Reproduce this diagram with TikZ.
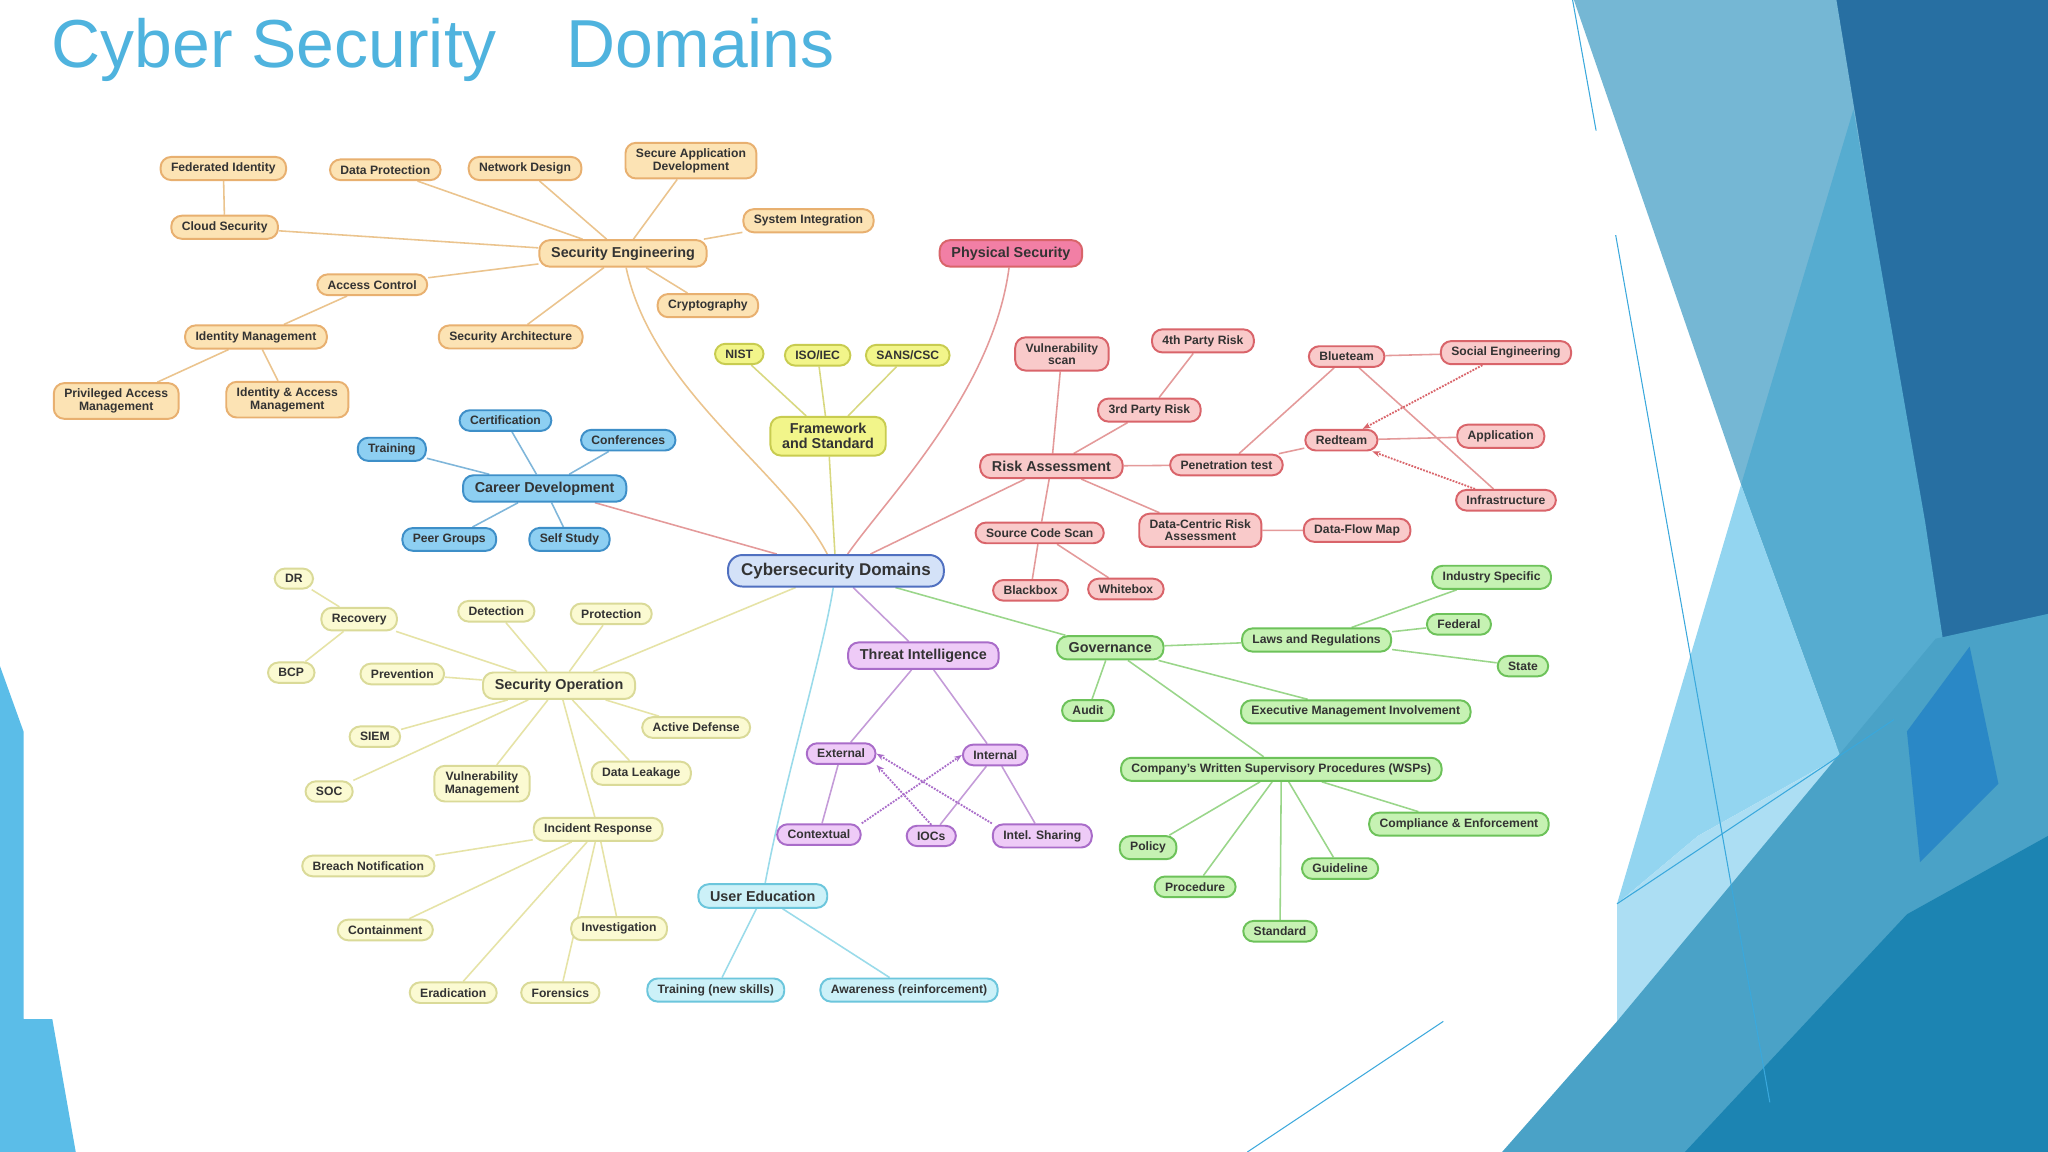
\documentclass[tikz,border=0pt]{standalone}
\usepackage{fontspec}
\setmainfont{Liberation Sans}
\usetikzlibrary{backgrounds,arrows.meta}
\definecolor{ttl}{HTML}{4FB3DE}
\definecolor{oF}{HTML}{FCE3B4}\definecolor{oD}{HTML}{E8B070}\definecolor{oE}{HTML}{EBC48E}
\definecolor{pF}{HTML}{F9CACA}\definecolor{pD}{HTML}{D9646A}\definecolor{pE}{HTML}{E49A9A}
\definecolor{psF}{HTML}{F27FA5}
\definecolor{yF}{HTML}{F2F58A}\definecolor{yD}{HTML}{C8CC50}\definecolor{yE}{HTML}{D8D880}
\definecolor{bF}{HTML}{8DCFF2}\definecolor{bD}{HTML}{3E8FC8}\definecolor{bE}{HTML}{7FB6DA}
\definecolor{cF}{HTML}{FBFAD2}\definecolor{cD}{HTML}{DADA98}\definecolor{cE}{HTML}{E6E3A6}
\definecolor{vF}{HTML}{EECBF7}\definecolor{vD}{HTML}{A96CC9}\definecolor{vE}{HTML}{C49BD8}
\definecolor{gF}{HTML}{C6F2B3}\definecolor{gD}{HTML}{6DC25A}\definecolor{gE}{HTML}{9AD68A}
\definecolor{yyF}{HTML}{CCF1F8}\definecolor{yyD}{HTML}{6CC6DC}\definecolor{yyE}{HTML}{9ADBEA}
\definecolor{zF}{HTML}{D4E2F8}\definecolor{zD}{HTML}{5070C0}
\definecolor{d1}{HTML}{5BBDE8}\definecolor{d2}{HTML}{276FA2}\definecolor{d3}{HTML}{75B7D4}
\definecolor{d4}{HTML}{56ACD0}\definecolor{d5}{HTML}{93D5F0}\definecolor{d6}{HTML}{ACDEF3}
\definecolor{d7}{HTML}{4AA2C7}\definecolor{d8}{HTML}{1C84B2}\definecolor{d9}{HTML}{2A88C6}
\definecolor{dl}{HTML}{3AA8DC}
\tikzset{
 bx/.style={rounded corners=8pt,inner ysep=4.5pt,inner xsep=8pt,line width=1.5pt,align=center,font=\bfseries\fontsize{9.3}{9.6}\selectfont,text=black!80},
 big/.style={font=\bfseries\fontsize{11}{11.5}\selectfont,inner ysep=5pt,inner xsep=9pt},
 org/.style={bx,fill=oF,draw=oD},
 pnk/.style={bx,fill=pF,draw=pD},
 ylw/.style={bx,fill=yF,draw=yD},
 blu/.style={bx,fill=bF,draw=bD},
 crm/.style={bx,fill=cF,draw=cD},
 prp/.style={bx,fill=vF,draw=vD},
 grn/.style={bx,fill=gF,draw=gD},
 cyn/.style={bx,fill=yyF,draw=yyD},
 eo/.style={draw=oE,line width=1.2pt},
 ep/.style={draw=pE,line width=1.2pt},
 ey/.style={draw=yE,line width=1.2pt},
 eb/.style={draw=bE,line width=1.2pt},
 ec/.style={draw=cE,line width=1.2pt},
 ev/.style={draw=vE,line width=1.2pt},
 eg/.style={draw=gE,line width=1.2pt},
 ecy/.style={draw=yyE,line width=1.2pt},
 dar/.style={densely dotted,line width=1.4pt,-{Stealth[length=6pt]}},
}
\begin{document}
\begin{tikzpicture}[x=1pt,y=-1pt]
\useasboundingbox (0,0) rectangle (1568,882);
\node[anchor=west,text=ttl,font=\fontsize{52}{56}\selectfont] (title) at (36,38) {Cyber Security\hspace{0.75em} Domains};
% orange
\node[org] (fi) at (171,129) {Federated Identity};
\node[org] (dp) at (295,130) {Data Protection};
\node[org] (nd) at (402,129) {Network Design};
\node[org] (sad) at (529,123) {Secure Application\\Development};
\node[org] (cs) at (172,174) {Cloud Security};
\node[org] (si) at (619,169) {System Integration};
\node[org,big] (se) at (477,194) {Security Engineering};
\node[org] (ac) at (285,218) {Access Control};
\node[org] (cry) at (542,234) {Cryptography};
\node[org] (im) at (196,258) {Identity Management};
\node[org] (sa) at (391,258) {Security Architecture};
\node[org] (pam) at (89,307) {Privileged Access\\Management};
\node[org] (iam) at (220,306) {Identity \& Access\\Management};
% physical
\node[pnk,big,fill=psF] (ps) at (774,194) {Physical Security};
% yellow
\node[ylw] (nist) at (566,271) {NIST};
\node[ylw] (iso) at (626,272) {ISO/IEC};
\node[ylw] (sans) at (695,272) {SANS/CSC};
\node[ylw,big] (fs) at (634,334) {Framework\\and Standard};
% blue
\node[blu] (cert) at (387,322) {Certification};
\node[blu] (conf) at (481,337) {Conferences};
\node[blu] (tr) at (300,344) {Training};
\node[blu,big] (cd) at (417,374) {Career Development};
\node[blu] (pg) at (344,413) {Peer Groups};
\node[blu] (ss) at (436,413) {Self Study};
% center
\node[bx,font=\bfseries\fontsize{13}{14}\selectfont,fill=zF,draw=zD,inner ysep=6pt,inner xsep=10pt,rounded corners=11pt] (cen) at (640,437) {Cybersecurity Domains};
% pink
\node[pnk] (vs) at (813,271) {Vulnerability\\scan};
\node[pnk] (p4) at (921,261) {4th Party Risk};
\node[pnk] (p3) at (880,314) {3rd Party Risk};
\node[pnk,big] (ra) at (805,357) {Risk Assessment};
\node[pnk] (pt) at (939,356) {Penetration test};
\node[pnk] (dcra) at (919,406) {Data-Centric Risk\\Assessment};
\node[pnk] (scs) at (796,408) {Source Code Scan};
\node[pnk] (dfm) at (1039,406) {Data-Flow Map};
\node[pnk] (bb) at (789,452) {Blackbox};
\node[pnk] (wb) at (862,451) {Whitebox};
\node[pnk] (blt) at (1031,273) {Blueteam};
\node[pnk] (rdt) at (1027,337) {Redteam};
\node[pnk] (soe) at (1153,270) {Social Engineering};
\node[pnk] (app) at (1149,334) {Application};
\node[pnk] (inf) at (1153,383) {Infrastructure};
% purple
\node[prp,big] (ti) at (707,502) {Threat Intelligence};
\node[prp] (ext) at (644,577) {External};
\node[prp] (int) at (762,578) {Internal};
\node[prp] (ctx) at (627,639) {Contextual};
\node[prp] (iocs) at (713,640) {IOCs};
\node[prp] (ish) at (798,640) {Intel. Sharing};
% cyan
\node[cyn,big] (ue) at (584,686) {User Education};
\node[cyn] (tns) at (548,758) {Training (new skills)};
\node[cyn] (aw) at (696,758) {Awareness (reinforcement)};
% green
\node[grn,big] (gov) at (850,496) {Governance};
\node[grn] (lr) at (1008,490) {Laws and Regulations};
\node[grn] (ind) at (1142,442) {Industry Specific};
\node[grn] (fed) at (1117,478) {Federal};
\node[grn] (st) at (1166,510) {State};
\node[grn] (aud) at (833,544) {Audit};
\node[grn] (emi) at (1038,545) {Executive Management Involvement};
\node[grn] (wsp) at (981,589) {Company's Written Supervisory Procedures (WSPs)};
\node[grn] (ce) at (1117,631) {Compliance \& Enforcement};
\node[grn] (pol) at (879,649) {Policy};
\node[grn] (gl) at (1026,665) {Guideline};
\node[grn] (proc) at (915,679) {Procedure};
\node[grn] (std) at (980,713) {Standard};
% cream
\node[crm] (dr) at (225,443) {DR};
\node[crm] (rec) at (275,474) {Recovery};
\node[crm] (det) at (380,468) {Detection};
\node[crm] (prot) at (468,470) {Protection};
\node[crm] (bcp) at (223,515) {BCP};
\node[crm] (prev) at (308,516) {Prevention};
\node[crm,big] (so) at (428,525) {Security Operation};
\node[crm] (ad) at (533,557) {Active Defense};
\node[crm] (siem) at (287,564) {SIEM};
\node[crm] (vm) at (369,600) {Vulnerability\\Management};
\node[crm] (dleak) at (491,592) {Data Leakage};
\node[crm] (soc) at (252,606) {SOC};
\node[crm] (ir) at (458,635) {Incident Response};
\node[crm] (bn) at (282,663) {Breach Notification};
\node[crm] (cont) at (295,712) {Containment};
\node[crm] (inv) at (474,711) {Investigation};
\node[crm] (erad) at (347,760) {Eradication};
\node[crm] (for) at (429,760) {Forensics};

\begin{scope}[on background layer]
% decorations
\fill[d1] (0,510) -- (18,560) -- (18,780) -- (40,780) -- (58,882) -- (0,882) -- cycle;
\fill[white] (18,0) rectangle (1237,780);
\fill[d2] (1406,0) -- (1568,0) -- (1568,882) -- (1406,882) -- cycle;
\fill[d3] (1205,0) -- (1406,0) -- (1501,579) -- (1409,579) -- (1333,371) -- cycle;
\fill[d4] (1419,84) -- (1474,400) -- (1501,579) -- (1409,579) -- (1333,371) -- cycle;
\fill[d5] (1333,371) -- (1409,579) -- (1300,640) -- (1238,692) -- cycle;
\fill[d6] (1238,692) -- (1300,640) -- (1409,579) -- (1330,680) -- (1238,782) -- cycle;
\fill[d7] (1150,882) -- (1238,782) -- (1482,489) -- (1568,470) -- (1568,882) -- cycle;
\fill[d8] (1290,882) -- (1460,700) -- (1568,640) -- (1568,882) -- cycle;
\fill[d9] (1460,560) -- (1508,495) -- (1530,600) -- (1470,660) -- cycle;
\draw[dl,line width=0.8pt] (1204,0) -- (1222,100) (1237,180) -- (1355,844) (1238,692) -- (1450,551) (955,882) -- (1105,782);
% edges
\path[eo] (cs) -- (se) (fi) -- (cs) (dp) -- (se) (nd) -- (se) (sad) -- (se) (si) -- (se) (ac) -- (se) (cry) -- (se) (sa) -- (se) (ac) -- (im) (im) -- (pam) (im) -- (iam);
\path[eo] (se) .. controls (500,300) and (600,360) .. (cen);
\path[ep] (ps) .. controls (760,300) and (680,380) .. (cen);
\path[ey] (fs) -- (nist) (fs) -- (iso) (fs) -- (sans) (fs) -- (cen);
\path[eb] (cd) -- (cert) (cd) -- (conf) (cd) -- (tr) (cd) -- (pg) (cd) -- (ss);
\path[ep] (cd) -- (cen);
\path[ep] (ra) -- (vs) (ra) -- (p3) (p3) -- (p4) (ra) -- (pt) (ra) -- (dcra) (ra) -- (scs) (scs) -- (bb) (scs) -- (wb) (dcra) -- (dfm) (pt) -- (blt) (pt) -- (rdt) (blt) -- (soe) (blt) -- (inf) (rdt) -- (app) (ra) -- (cen);
\path[dar,draw=pD] (soe) -- (rdt);
\path[dar,draw=pD] (inf) -- (rdt);
\path[ev] (ti) -- (cen) (ti) -- (ext) (ti) -- (int) (ext) -- (ctx) (int) -- (iocs) (int) -- (ish);
\path[dar,draw=vD] (ctx.north east) -- (int.west);
\path[dar,draw=vD] (ish.north west) -- (ext.east);
\path[dar,draw=vD] (iocs.north) -- (ext.south east);
\path[ecy] (ue) -- (tns) (ue) -- (aw);
\path[ecy] (ue) .. controls (600,600) and (630,500) .. (cen);
\path[eg] (gov) -- (cen) (gov) -- (lr) (lr) -- (ind) (lr) -- (fed) (lr) -- (st) (gov) -- (aud) (gov) -- (emi) (gov) -- (wsp) (wsp) -- (ce) (wsp) -- (pol) (wsp) -- (gl) (wsp) -- (proc) (wsp) -- (std);
\path[ec] (so) -- (cen) (rec) -- (dr) (rec) -- (bcp) (so) -- (rec) (so) -- (det) (so) -- (prot) (so) -- (prev) (so) -- (ad) (so) -- (siem) (so) -- (soc) (so) -- (vm) (so) -- (dleak) (so) -- (ir) (ir) -- (bn) (ir) -- (cont) (ir) -- (inv) (ir) -- (erad) (ir) -- (for);
\end{scope}
\end{tikzpicture}
\end{document}
